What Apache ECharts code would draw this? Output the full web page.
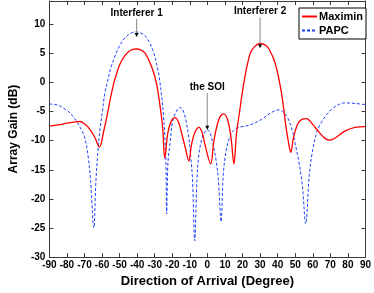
<!DOCTYPE html>
<html><head><meta charset="utf-8">
<script src="https://cdn.jsdelivr.net/npm/echarts@6/dist/echarts.min.js"></script>
<style>html,body{margin:0;padding:0;background:#fff}#c{width:374px;height:293px}</style>
</head><body><div id="c"></div>
<script>
var xTicks = [-90,-80,-70,-60,-50,-40,-30,-20,-10,0,10,20,30,40,50,60,70,80,90];
var yTicks = [-30,-25,-20,-15,-10,-5,0,5,10];

var maximinDeg  = [-90,-85,-80,-75,-72.5,-70,-67,-64,-61.5,-59,-57,-55,-53,-50,-47,-44,-40.5,-38,-35.4,-31.8,-29.1,-27.3,-25.5,-24.3,-22.5,-20.5,-18.4,-16.5,-15,-12.5,-10.6,-9,-7,-4.7,-3,-1.5,1.9,3.5,5,7,9.2,11.5,13.5,15.1,16.5,18.1,20.8,24.3,27,30,32.5,35,38.6,42.1,44.8,46.6,47.5,49,51.5,54,56.4,60,64,67,69.7,73,78,84,90];
var maximinGain = [-7.5,-7.3,-7.0,-6.75,-6.7,-7.1,-8.0,-9.5,-11.1,-8.3,-5.5,-2.4,0.2,3.0,4.6,5.5,5.75,5.6,5.0,2.75,0,-3.3,-7.7,-13.0,-8.6,-6.6,-6.05,-6.8,-8.3,-11.3,-13.5,-10.6,-8.5,-7.7,-8.6,-10.5,-14.0,-10.5,-8.0,-6.0,-5.4,-6.4,-9.6,-14.0,-9.0,-5.5,0,4.95,6.2,6.7,6.5,5.8,3.3,-1.65,-7.7,-11.0,-12.0,-9.5,-7.1,-6.3,-6.2,-7.2,-8.7,-9.6,-9.9,-9.5,-8.4,-7.7,-7.6];

var papcDeg  = [-90,-85,-81,-78,-74,-72,-70,-68,-66.5,-64.7,-63.5,-62.5,-61.2,-60,-58.5,-57,-55,-53,-51,-48,-45,-42.5,-40.5,-38,-35.5,-33,-31,-29.5,-28.2,-27,-26,-25,-24.2,-23.6,-23.2,-22.5,-21.1,-20,-18.4,-15.7,-14,-12.2,-10.5,-9.5,-8.5,-7.2,-6,-5,-3.3,-1.5,0,1.5,3.9,5,6.2,7.8,9,10.5,12.5,14.9,18,21.6,26,31,36.8,41,43.5,45.7,48.4,50,52,54,56,58,60,62.6,65,68,72,78,84,90];
var papcGain = [-3.7,-3.9,-4.6,-5.3,-6.9,-8.0,-9.3,-12.5,-17,-25,-17,-12.5,-8.0,-5.5,-2.0,0,2.5,4.2,5.7,7.3,8.2,8.6,8.7,8.5,8.0,6.9,5.5,3.9,2.2,0,-2.5,-5.6,-9.5,-14,-22.6,-14,-9.9,-7.0,-5.4,-4.3,-4.7,-6.6,-9.6,-12.7,-16.5,-27.2,-17,-12.8,-9.8,-8.5,-8.1,-8.6,-11.6,-13.5,-16.5,-23.9,-16,-12,-9.6,-8.25,-7.7,-7.5,-7.1,-6.3,-5.1,-4.7,-5.2,-6.05,-8.3,-10.5,-13.5,-17.5,-24.3,-16,-11.5,-8.25,-6.8,-5.5,-4.3,-3.5,-3.6,-3.8];

var annotLabels = ['Interferer 1','Interferer 2','the SOI'];
var annotDeg = [-40.3, 30, -0.1];
var annotTextGain = [11.9, 12.2, -0.8];
var annotArrowFrom = [10.9, 11.2, -1.8];
var annotArrowTo = [7.8, 5.9, -8.1];

function pairs(xs, ys){ return xs.map(function(x,i){return [x, ys[i]];}); }
var FONT = '"Liberation Sans", Arial, sans-serif';
var AX = '#3a3a3a';
function axLine(){ return {show:true,onZero:false,lineStyle:{color:AX,width:1}}; }

var chart = echarts.init(document.getElementById('c'));
chart.setOption({
  animation:false,
  backgroundColor:'#fff',
  grid:{left:31,right:6,top:1,bottom:26,containLabel:false},
  legend:{
    data:['Maximin','PAPC'], orient:'vertical', left:299, top:8,
    backgroundColor:'#fff', borderColor:'#000', borderWidth:1,
    padding:[3,3,3,2], itemGap:3, itemWidth:15, itemHeight:8,
    itemStyle:{opacity:0},
    textStyle:{fontFamily:FONT,fontWeight:'bold',fontSize:11,color:'#000',padding:[0,0,0,-3]}
  },
  xAxis:[{
    type:'value', min:-90, max:90, interval:10,
    name:'Direction of Arrival (Degree)', nameLocation:'middle', nameGap:16,
    nameTextStyle:{fontFamily:FONT,fontWeight:'bold',fontSize:13,color:'#000'},
    axisLine:axLine(),
    axisTick:{show:true,inside:true,length:4,lineStyle:{color:AX}},
    axisLabel:{fontFamily:FONT,fontWeight:'bold',fontSize:10,color:'#000',margin:3,
      formatter:function(v){return xTicks.indexOf(v)>=0?String(v):'';}},
    splitLine:{show:false}
  },{
    type:'value', min:-90, max:90, interval:10, position:'top',
    axisLine:axLine(),
    axisTick:{show:true,inside:true,length:4,lineStyle:{color:AX}},
    axisLabel:{show:false}, splitLine:{show:false}
  }],
  yAxis:[{
    type:'value', min:-30, max:14, interval:5,
    name:'Array Gain (dB)', nameLocation:'middle', nameGap:22,
    nameTextStyle:{fontFamily:FONT,fontWeight:'bold',fontSize:12,color:'#000'},
    axisLine:axLine(),
    axisTick:{show:true,inside:true,length:4,lineStyle:{color:AX}},
    axisLabel:{fontFamily:FONT,fontWeight:'bold',fontSize:10,color:'#000',margin:4,showMaxLabel:false,
      formatter:function(v){return yTicks.indexOf(v)>=0?String(v):'';}},
    splitLine:{show:false}
  },{
    type:'value', min:-30, max:14, interval:5, position:'right',
    axisLine:axLine(),
    axisTick:{show:true,inside:true,length:4,lineStyle:{color:AX}},
    axisLabel:{show:false}, splitLine:{show:false}
  }],
  series:[{
    name:'Maximin', type:'line', data:pairs(maximinDeg, maximinGain),
    symbol:'none', showSymbol:false, smooth:0.35, color:'#ff0000',
    lineStyle:{color:'#ff0000',width:1.3}, z:3
  },{
    name:'PAPC', type:'line', data:pairs(papcDeg, papcGain),
    symbol:'none', showSymbol:false, smooth:0.35, color:'#1f3fff',
    lineStyle:{color:'#1f3fff',width:1,type:[3,2]}, z:2
  }]
});

var g = [];
for (var i=0;i<annotLabels.length;i++){
  var t = chart.convertToPixel({gridIndex:0},[annotDeg[i],annotTextGain[i]]);
  var a = chart.convertToPixel({gridIndex:0},[annotDeg[i],annotArrowFrom[i]]);
  var b = chart.convertToPixel({gridIndex:0},[annotDeg[i],annotArrowTo[i]]);
  g.push({type:'text',x:t[0],y:t[1],z:10,style:{text:annotLabels[i],fill:'#000',font:'bold 10px '+FONT,align:'center',verticalAlign:'middle'}});
  g.push({type:'line',z:10,shape:{x1:a[0],y1:a[1],x2:b[0],y2:b[1]-3},style:{stroke:'#888',lineWidth:1}});
  g.push({type:'polygon',z:10,shape:{points:[[b[0]-2,b[1]-4],[b[0]+2,b[1]-4],[b[0],b[1]]]},style:{fill:'#000'}});
}
chart.setOption({graphic:g});
</script>
</body></html>
